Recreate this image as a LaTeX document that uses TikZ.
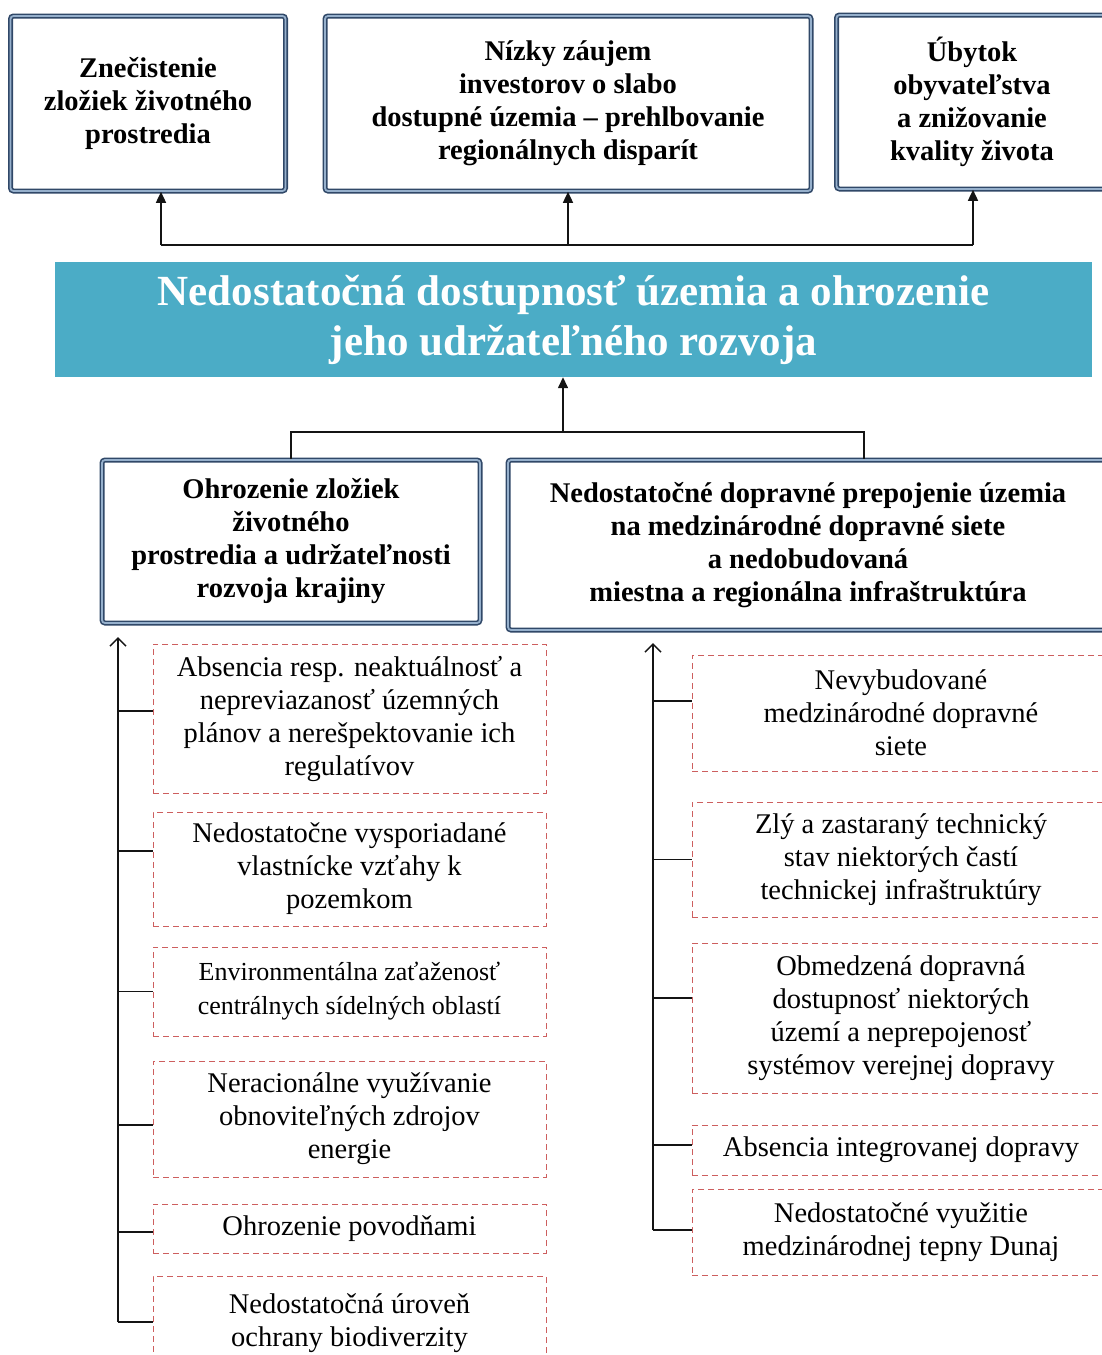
\documentclass[tikz,border=0pt]{standalone}
\usepackage{fontspec}
\setmainfont{Liberation Serif}
\usetikzlibrary{arrows.meta, positioning, calc}
\definecolor{frameblue}{RGB}{48,72,104}
\definecolor{framelight}{RGB}{150,176,204}
\definecolor{bannerteal}{RGB}{75,172,198}
\definecolor{dashred}{RGB}{205,95,95}
\definecolor{linegray}{RGB}{20,20,20}

\begin{document}
\begin{tikzpicture}[x=1pt, y=-1pt,
    effect/.style={rectangle, rounded corners=3pt, draw=frameblue, line width=1.6pt, double=framelight, double distance=1.8pt, fill=white, align=center, inner sep=0pt, font=\fontsize{28.5}{33}\selectfont\bfseries},
    banner/.style={rectangle, fill=bannerteal, text=white, align=center, inner sep=0pt, font=\fontsize{43}{50}\selectfont\bfseries},
    factor/.style={rectangle, draw=dashred, line width=0.9pt, dash pattern=on 6pt off 4pt, fill=white, align=center, inner sep=0pt, font=\fontsize{28.5}{33}\selectfont},
    link/.style={line width=1.5pt, color=linegray},
    linkup/.style={link, -{Triangle[length=11pt, width=10pt]}},
    spine/.style={link, -{Straight Barb[length=8pt, width=16pt]}}
]
\clip (0,0) rectangle (1102,1355);
\fill[white] (0,0) rectangle (1102,1355);
\node[effect, minimum width=275pt, minimum height=175pt] (zne) at (148,103.5) {Znečistenie\\zložiek životného\\prostredia};
\node[effect, minimum width=486pt, minimum height=175pt] (investori) at (568,103.5) {Nízky záujem\\investorov o slabo\\dostupné územia – prehlbovanie\\regionálnych disparít};
\node[effect, minimum width=271pt, minimum height=174pt] (ubytok) at (972,102) {Úbytok\\obyvateľstva\\a znižovanie\\kvality života};
\node[banner, minimum width=1037pt, minimum height=115pt] (banner) at (573.5,319.5) {Nedostatočná dostupnosť územia a ohrozenie\\jeho udržateľného rozvoja};
\node[effect, minimum width=378pt, minimum height=163pt] (ohrozenie) at (291,541.5) {Ohrozenie zložiek\\životného\\prostredia a udržateľnosti\\rozvoja krajiny};
\node[effect, minimum width=600pt, minimum height=170pt] (doprava) at (808,545) {Nedostatočné dopravné prepojenie územia\\na medzinárodné dopravné siete\\a nedobudovaná\\miestna a regionálna infraštruktúra};
\node[factor, minimum width=393pt, minimum height=149pt] (a1) at (349.5,718.5) {Absencia resp. neaktuálnosť a\\nepreviazanosť územných\\plánov a nerešpektovanie ich\\regulatívov};
\node[factor, minimum width=393pt, minimum height=114pt] (a2) at (349.5,869) {Nedostatočne vysporiadané\\vlastnícke vzťahy k\\pozemkom};
\node[factor, minimum width=393pt, minimum height=89pt, font=\fontsize{26}{34}\selectfont] (a3) at (349.5,991.5) {Environmentálna zaťaženosť\\centrálnych sídelných oblastí};
\node[factor, minimum width=393pt, minimum height=116pt] (a4) at (349.5,1119) {Neracionálne využívanie\\obnoviteľných zdrojov\\energie};
\node[factor, minimum width=393pt, minimum height=49pt] (a5) at (349.5,1228.5) {Ohrozenie povodňami};
\node[factor, minimum width=393pt, minimum height=94pt] (a6) at (349.5,1323) {Nedostatočná úroveň\\ochrany biodiverzity};
\node[factor, minimum width=418pt, minimum height=116pt] (b1) at (901,713) {Nevybudované\\medzinárodné dopravné\\siete};
\node[factor, minimum width=418pt, minimum height=115pt] (b2) at (901,859.5) {Zlý a zastaraný technický\\stav niektorých častí\\technickej infraštruktúry};
\node[factor, minimum width=418pt, minimum height=150pt] (b3) at (901,1018) {Obmedzená dopravná\\dostupnosť niektorých\\území a neprepojenosť\\systémov verejnej dopravy};
\node[factor, minimum width=418pt, minimum height=50pt] (b4) at (901,1150) {Absencia integrovanej dopravy};
\node[factor, minimum width=418pt, minimum height=86pt] (b5) at (901,1232) {Nedostatočné využitie\\medzinárodnej tepny Dunaj};
\coordinate (topL) at (161,245);
\coordinate (topR) at (973,245);
\draw[link] (topL) -- (topR);
\draw[linkup] (topL) -- (topL |- zne.south);
\draw[linkup] (investori.south |- topL) -- (investori.south);
\draw[linkup] (topR) -- (topR |- ubytok.south);
\coordinate (midJ) at (563,432);
\coordinate (midR) at (864,432);
\draw[linkup] (midJ) -- (midJ |- banner.south);
\draw[link] (ohrozenie.north) |- (midR) -- (midR |- doprava.north);
\coordinate (spineL) at (118,637);
\coordinate (spineR) at (653,643);
\foreach \b/\s in {a1/7.5, a2/18, a3/0, a4/-6, a5/-3.5, a6/1}{
  \coordinate (tk) at ([yshift=\s pt]\b.west);
  \draw[link] (tk -| spineL) -- (tk);
}
\foreach \b/\s in {b1/12, b2/0, b3/20, b4/5, b5/2}{
  \coordinate (tk) at ([yshift=\s pt]\b.west);
  \draw[link] (tk -| spineR) -- (tk);
}
\draw[spine] ([yshift=1pt]a6.west -| spineL) -- (spineL);
\draw[spine] ([yshift=2pt]b5.west -| spineR) -- (spineR);
\end{tikzpicture}
\end{document}
